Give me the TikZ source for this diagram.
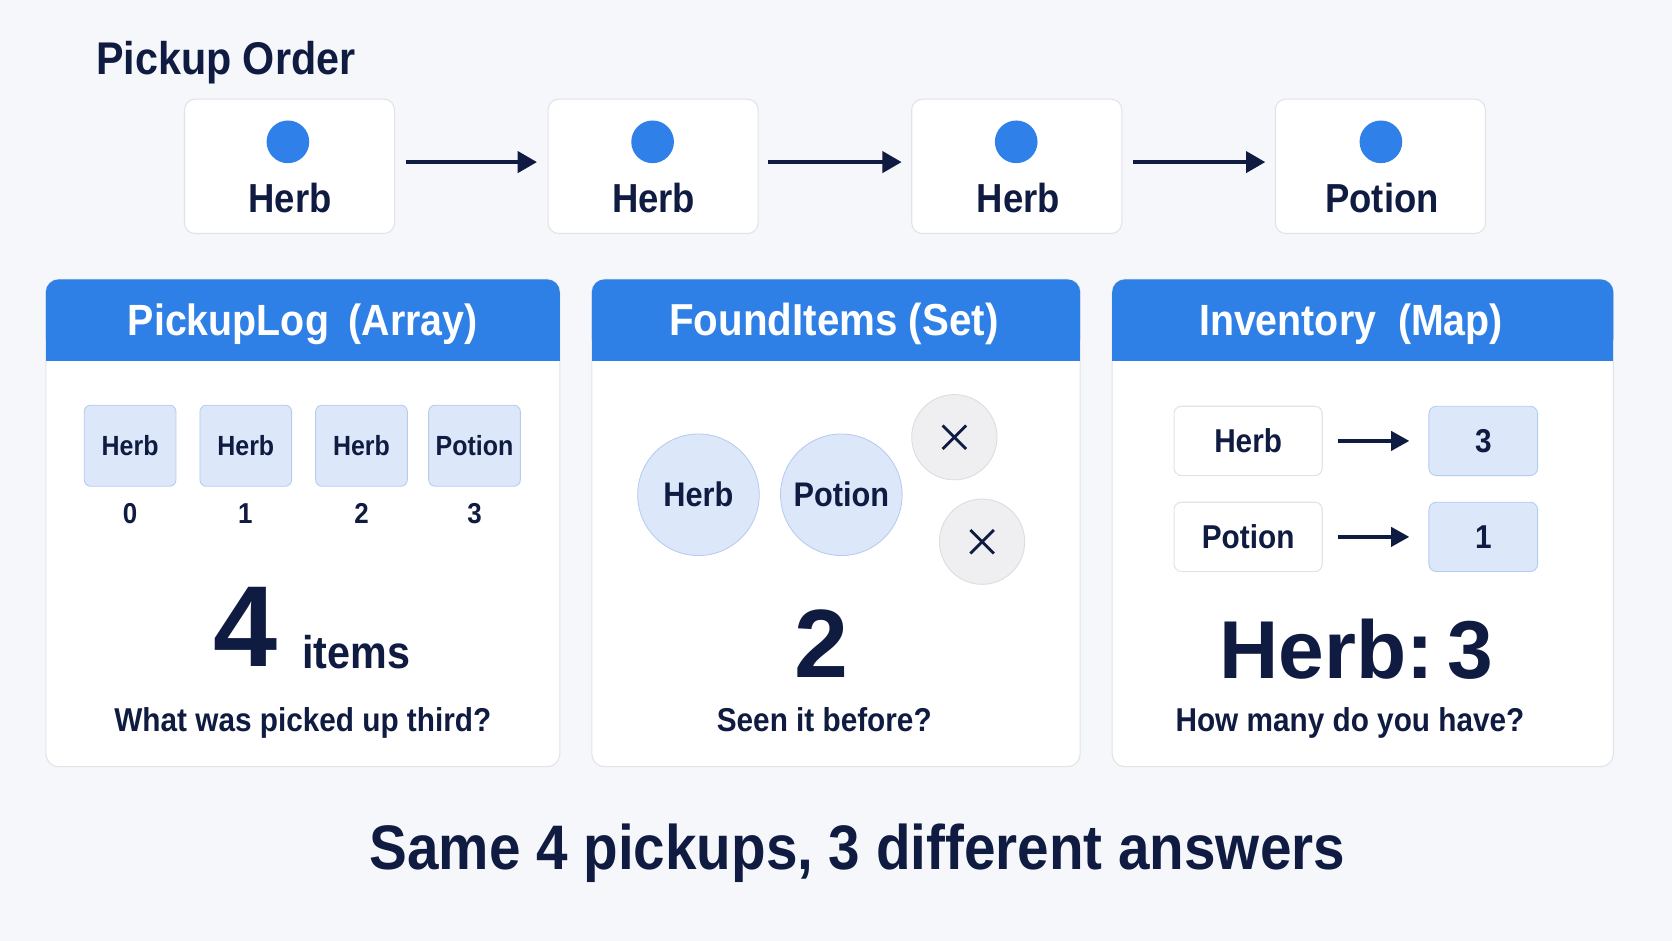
\documentclass[tikz,border=0pt]{standalone}
\usepackage{fontspec}
\setmainfont{Liberation Sans}
\newfontfamily\cf[FakeStretch=0.9]{Liberation Sans}
\usetikzlibrary{arrows.meta,calc}
\definecolor{navy}{HTML}{0F1B40}
\definecolor{bg}{HTML}{F5F7FA}
\definecolor{bordergray}{HTML}{E0E3E8}
\definecolor{hdrblue}{HTML}{2F80E6}
\definecolor{dotblue}{HTML}{2F80E8}
\definecolor{cellblue}{HTML}{DCE8FA}
\definecolor{cellborder}{HTML}{B5CCEF}
\definecolor{xfill}{HTML}{EFEFF1}
\definecolor{xborder}{HTML}{DADCE0}
\newcommand\setfs[1]{\fontsize{#1}{#1}\selectfont}
\tikzset{
  topbox/.style={draw=bordergray, fill=white, rounded corners=10pt, line width=1pt, minimum width=197pt, minimum height=126pt},
  dotnode/.style={circle, fill=dotblue, minimum size=40pt, inner sep=0pt},
  toplabel/.style={text=navy, font=\cf\bfseries\setfs{38}, anchor=base, inner sep=0pt},
  arr/.style={draw=navy, line width=3pt, -{Triangle[length=18pt,width=20pt]}},
  panel/.style={draw=bordergray, fill=white, rounded corners=12pt, line width=1pt},
  hdrtext/.style={text=white, font=\cf\bfseries\setfs{41}, anchor=base, inner sep=0pt},
  cell/.style={draw=cellborder, fill=cellblue, rounded corners=6pt, line width=0.8pt, minimum width=86pt, minimum height=76pt, text=navy, font=\cf\bfseries\setfs{26}, inner sep=0pt},
  idx/.style={text=navy, font=\cf\bfseries\setfs{27}, anchor=base, inner sep=0pt},
  setcirc/.style={circle, draw=cellborder, fill=cellblue, line width=0.8pt, minimum size=114pt, inner sep=0pt, text=navy, font=\cf\bfseries\setfs{32}},
  xcirc/.style={circle, draw=xborder, fill=xfill, line width=0.8pt, minimum size=80pt, inner sep=0pt},
  xmark/.style={draw=navy, line width=2.6pt},
  keybox/.style={draw=bordergray, fill=white, rounded corners=7pt, line width=1pt, minimum width=139pt, minimum height=65pt, text=navy, font=\cf\bfseries\setfs{31}, inner sep=0pt},
  valbox/.style={draw=cellborder, fill=cellblue, rounded corners=7pt, line width=0.8pt, minimum width=102pt, minimum height=65pt, text=navy, font=\cf\bfseries\setfs{31}, inner sep=0pt},
  smallarr/.style={draw=navy, line width=3.2pt, -{Triangle[length=17pt,width=18pt]}},
  sub/.style={text=navy, font=\cf\bfseries\setfs{31}, anchor=base, inner sep=0pt},
  big/.style={text=navy, font=\bfseries, anchor=base, inner sep=0pt}
}
\begin{document}
\begin{tikzpicture}[x=1pt, y=-1pt]
\fill[bg] (0,0) rectangle (1568,882);
\useasboundingbox (0,0) rectangle (1568,882);

% title
\node[text=navy, font=\cf\bfseries\setfs{43}, anchor=base west, inner sep=0pt] (title) at (90,70) {Pickup Order};

% top row
\node[topbox] (b1) at (271.5,156) {};
\node[topbox] (b2) at (612.5,156) {};
\node[topbox] (b3) at (953.5,156) {};
\node[topbox] (b4) at (1294.5,156) {};
\node[dotnode] (d1) at (270,133) {};
\node[dotnode] (d2) at (612,133) {};
\node[dotnode] (d3) at (953,133) {};
\node[dotnode] (d4) at (1295,133) {};
\node[toplabel] (l1) at (272,199) {Herb};
\node[toplabel] (l2) at (613,199) {Herb};
\node[toplabel] (l3) at (955,199) {Herb};
\node[toplabel] (l4) at (1296,199) {Potion};
\draw[arr, shorten <=10pt, shorten >=10pt] (b1.east |- 0,152) -- (b2.west |- 0,152);
\draw[arr, shorten <=9pt, shorten >=9pt] (b2.east |- 0,152) -- (b3.west |- 0,152);
\draw[arr, shorten <=10pt, shorten >=9pt] (b3.east |- 0,152) -- (b4.west |- 0,152);

% panels
\node[panel, minimum width=482pt, minimum height=457pt] (p1) at (284,490.5) {};
\node[panel, minimum width=458pt, minimum height=457pt] (p2) at (784,490.5) {};
\node[panel, minimum width=470pt, minimum height=457pt] (p3) at (1278,490.5) {};
\fill[hdrblue, rounded corners=12pt] (43,262) rectangle (525,330);
\fill[hdrblue] (43,318) rectangle (525,339);
\fill[hdrblue, rounded corners=12pt] (555,262) rectangle (1013,330);
\fill[hdrblue] (555,318) rectangle (1013,339);
\fill[hdrblue, rounded corners=12pt] (1043,262) rectangle (1513,330);
\fill[hdrblue] (1043,318) rectangle (1513,339);
\node[hdrtext] (h1) at (284,315) {PickupLog\hspace{0.45em}(Array)};
\node[hdrtext, font=\cf\bfseries\setfs{42}] (h2) at (782,315) {FoundItems (Set)};
\node[hdrtext] (h3) at (1267,315) {Inventory\hspace{0.5em}(Map)};

% panel 1
\node[cell] (c0) at (122,418) {Herb};
\node[cell] (c1) at (230.5,418) {Herb};
\node[cell] (c2) at (339,418) {Herb};
\node[cell] (c3) at (445,418) {Potion};
\node[idx] (i0) at (122,491) {0};
\node[idx] (i1) at (230,491) {1};
\node[idx] (i2) at (339,491) {2};
\node[idx] (i3) at (445,491) {3};
\node[big, font=\bfseries\setfs{108}] (n4) at (230,625) {4};
\node[text=navy, font=\cf\bfseries\setfs{43}, anchor=base, inner sep=0pt] (items) at (334,627) {items};
\node[sub] (s1) at (284,686) {What was picked up third?};

% panel 2
\node[setcirc] (sh) at (655,464) {Herb};
\node[setcirc] (sp) at (789,464) {Potion};
\node[xcirc] (x1) at (895,410) {};
\node[xcirc] (x2) at (921,508) {};
\draw[xmark] ($(x1)+(-11,-11)$) -- ($(x1)+(11,11)$);
\draw[xmark] ($(x1)+(-11,11)$) -- ($(x1)+(11,-11)$);
\draw[xmark] ($(x2)+(-11,-11)$) -- ($(x2)+(11,11)$);
\draw[xmark] ($(x2)+(-11,11)$) -- ($(x2)+(11,-11)$);
\node[big, font=\bfseries\setfs{91}] (n2) at (770,635) {2};
\node[sub] (s2) at (773,686) {Seen it before?};

% panel 3
\node[keybox] (k1) at (1170.5,413.5) {Herb};
\node[keybox] (k2) at (1170.5,503.5) {Potion};
\node[valbox] (v1) at (1391,413.5) {3};
\node[valbox] (v2) at (1391,503.5) {1};
\draw[smallarr, shorten <=14pt, shorten >=18pt] (k1) -- (v1);
\draw[smallarr, shorten <=14pt, shorten >=18pt] (k2) -- (v2);
\node[big, font=\bfseries\setfs{77}] (hb) at (1272,636) {Herb:\,3};
\node[sub] (s3) at (1266,686) {How many do you have?};

% bottom
\node[text=navy, font=\cf\bfseries\setfs{59}, anchor=base, inner sep=0pt] (foot) at (804,815) {Same 4 pickups, 3 different answers};
\end{tikzpicture}
\end{document}
